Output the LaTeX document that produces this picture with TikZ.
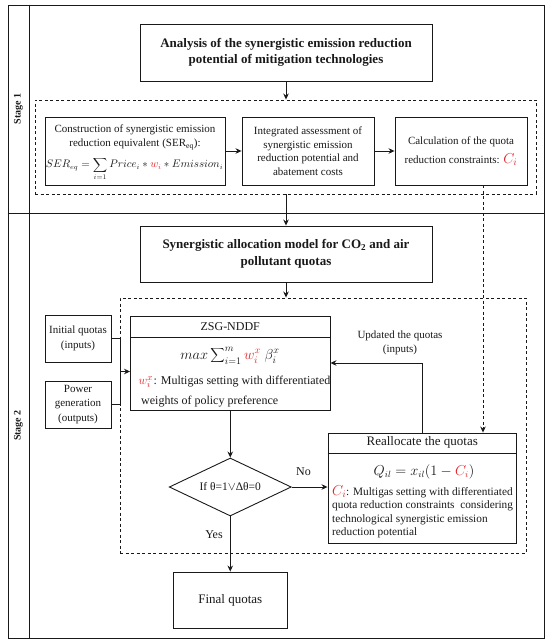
\documentclass[tikz,border=0pt]{standalone}
\usepackage{fontspec}
\setmainfont{Liberation Serif}
\usetikzlibrary{arrows.meta,shapes.geometric,calc}
\definecolor{qred}{RGB}{225,35,40}
\definecolor{ink}{RGB}{25,25,25}
\begin{document}
\begin{tikzpicture}[x=1pt,y=1pt,
  every node/.style={font=\fontsize{11}{13.5}\selectfont,text=ink},
  box/.style={draw=ink,line width=0.9pt,inner sep=0pt,align=center},
  dbox/.style={draw=ink,line width=0.9pt,dash pattern=on 3pt off 2.5pt,inner sep=0pt},
  arr/.style={draw=ink,line width=0.9pt,-{Stealth[length=6pt,width=5.5pt]}},
  darr/.style={draw=ink,line width=0.9pt,dash pattern=on 3pt off 2.5pt,-{Stealth[length=6pt,width=5.5pt]}},
  ln/.style={draw=ink,line width=0.9pt},
  lbl/.style={inner sep=0pt},
  stagelbl/.style={rotate=90,inner sep=0pt,font=\bfseries\fontsize{10}{12}\selectfont},
  titlefont/.style={font=\bfseries\fontsize{13}{16.5}\selectfont},
]
\useasboundingbox (0,0) rectangle (550,-644);

% frame and stage column
\node[box,minimum width=536pt,minimum height=633pt] (frame) at (276,-321.5) {};
\coordinate (sc) at (29,0);
\coordinate (dv) at (0,-213);
\draw[ln] (frame.north -| sc) -- (frame.south -| sc);
\draw[ln] (frame.west |- dv) -- (frame.east |- dv);
\node[stagelbl] (s1) at (18.5,-109) {Stage 1};
\node[stagelbl] (s2) at (18.5,-425.5) {Stage 2};

% Stage 1
\node[box,titlefont,minimum width=292pt,minimum height=57pt] (A) at (286,-52.5)
  {Analysis of the synergistic emission reduction\\potential of mitigation technologies};
\node[dbox,minimum width=501pt,minimum height=94pt] (D1) at (285.5,-147) {};
\node[box,minimum width=180pt,minimum height=68pt] (B1) at (135,-151) {};
\node[lbl] (b1a) at (135,-129.5) {Construction of synergistic emission};
\node[lbl] (b1b) at (135,-144.5) {reduction equivalent (SER$_{\mathrm{eq}}$):};
\node[lbl,anchor=base,font=\fontsize{10.5}{13}\selectfont] (b1c) at (134.5,-168)
  {$\displaystyle SER_{eq}=\sum_{i=1}Price_i\ast{\color{qred}w_i}\ast Emission_i$};
\node[box,minimum width=132pt,minimum height=68pt] (B2) at (308,-151)
  {Integrated assessment of\\synergistic emission\\reduction potential and\\abatement costs};
\node[box,minimum width=132pt,minimum height=68pt] (B3) at (461,-151)
  {Calculation of the quota\\[5pt]reduction constraints: {\fontsize{14}{14}\selectfont$\color{qred}C_i$}};
\draw[arr] (A.south) -- (A.south |- D1.north);
\draw[arr] (B1.east) -- (B2.west);
\draw[arr] (B2.east) -- (B3.west);

% Stage 2
\node[box,titlefont,minimum width=292pt,minimum height=56pt] (C) at (286,-254)
  {Synergistic allocation model for CO\textsubscript{2} and air\\pollutant quotas};
\draw[arr] (C.north |- D1.south) -- (C.north);
\node[dbox,minimum width=406pt,minimum height=255pt] (D2) at (323,-425.5) {};
\draw[arr] (C.south) -- (C.south |- D2.north);

\node[box,minimum width=66pt,minimum height=47pt,font=\fontsize{11}{15}\selectfont] (IQ) at (78,-338.5) {Initial quotas\\(inputs)};
\node[box,minimum width=66pt,minimum height=47pt,font=\fontsize{11}{14.5}\selectfont] (PG) at (78,-404.5) {Power\\generation\\(outputs)};

% ZSG-NDDF box
\node[box,minimum width=199.5pt,minimum height=94pt] (Z) at (230.25,-363) {};
\coordinate (zh) at (0,-337.5);
\draw[ln] (Z.west |- zh) -- (Z.east |- zh);
\node[lbl,font=\fontsize{12}{14}\selectfont] (zt) at (230.25,-327) {ZSG-NDDF};
\node[lbl,font=\fontsize{14}{16}\selectfont] (zf) at (230,-356)
  {$\displaystyle max\sum\nolimits_{i=1}^{m}{\color{qred}w_i^x}\;\beta_i^x$};
\node[lbl,anchor=base west,font=\fontsize{13}{13}\selectfont] (zw) at (138.5,-384.5)
  {$\color{qred}w_i^x$};
\node[lbl,anchor=base west,font=\fontsize{12}{14}\selectfont] (z1) at (zw.base east)
  {: Multigas setting with differentiated};
\node[lbl,anchor=base west,font=\fontsize{12}{14}\selectfont] (z2) at (141,-404)
  {weights of policy preference};

% merge of inputs
\coordinate (mx) at (120,0);
\draw[ln] (IQ.east) -- (IQ.east -| mx) -- (PG.east -| mx) -- (PG.east);
\coordinate (mm) at ($(IQ.east -| mx)!0.5!(PG.east -| mx)$);
\draw[arr] (mm) -- (mm -| Z.west);

% decision
\node[draw=ink,line width=0.9pt,diamond,aspect=2.1,inner sep=0pt,minimum width=122pt,minimum height=58pt,
  font=\fontsize{11.5}{13}\selectfont] (DM) at (230.25,-487) {If θ=1$\vee$Δθ=0};
\draw[arr] (Z.south) -- (DM.north);

% Reallocate box
\node[box,minimum width=188.5pt,minimum height=110pt] (R) at (422.25,-488) {};
\coordinate (rh) at (0,-453);
\draw[ln] (R.west |- rh) -- (R.east |- rh);
\node[lbl,font=\fontsize{13}{15}\selectfont] (rt) at (422.25,-442.5) {Reallocate the quotas};
\node[lbl,font=\fontsize{13.5}{15}\selectfont] (rf) at (424,-472) {$Q_{il}=x_{il}(1-{\color{qred}C_i})$};
\node[lbl,anchor=base west,font=\fontsize{11.3}{13}\selectfont] (r1) at (332,-495)
  {{\fontsize{14}{14}\selectfont$\color{qred}C_i$}: Multigas setting with differentiated};
\node[lbl,anchor=base west,font=\fontsize{11.3}{13}\selectfont] (r2) at (332,-508.5)
  {quota reduction constraints\ \ considering};
\node[lbl,anchor=base west,font=\fontsize{11.3}{13}\selectfont] (r3) at (332,-522)
  {technological synergistic emission};
\node[lbl,anchor=base west,font=\fontsize{11.3}{13}\selectfont] (r4) at (332,-535.5)
  {reduction potential};

\draw[arr] (DM.east) -- (DM.east -| R.west);
\node[lbl,font=\fontsize{12}{14}\selectfont] (no) at (303.5,-472) {No};

% feedback
\draw[arr] (R.north) |- (Z.east);
\node[lbl,align=center,font=\fontsize{11}{14}\selectfont] (upd) at (400,-343) {Updated the quotas\\(inputs)};

% dashed link from stage 1
\coordinate (dx) at (483,0);
\draw[darr] (B3.south -| dx) -- (R.north -| dx);

% final
\node[box,minimum width=114pt,minimum height=56pt,font=\fontsize{13}{15}\selectfont] (F) at (230.25,-600) {Final quotas};
\draw[arr] (DM.south) -- (F.north);
\node[lbl,font=\fontsize{12}{14}\selectfont] (yes) at (214,-535) {Yes};
\end{tikzpicture}
\end{document}
